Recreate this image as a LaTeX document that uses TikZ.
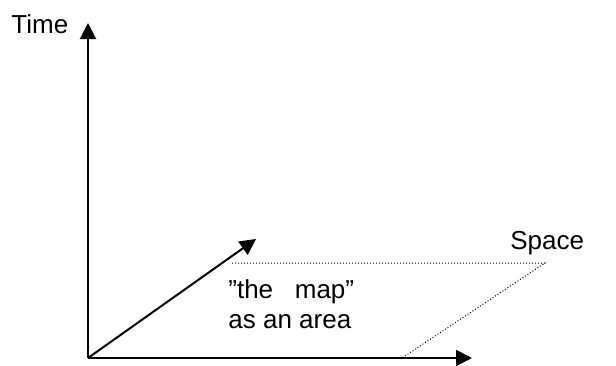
\documentclass[tikz,border=0pt]{standalone}
\usepackage{fontspec}
\setmainfont{Liberation Sans}
\usetikzlibrary{arrows.meta}

\tikzset{
  axis/.style={line width=1pt,-{Triangle[length=8pt,width=8pt]}},
  maparea/.style={line width=0.5pt,dash pattern=on 0.5pt off 1pt},
  lbl/.style={inner sep=0pt,font=\fontsize{13}{15}\selectfont}
}

\begin{document}
\begin{tikzpicture}[x=0.5pt,y=-0.5pt]
            \useasboundingbox (0,0) rectangle (616,365);
            \coordinate (origin) at (88,358);
            \coordinate (timeend) at (88,23);
            \coordinate (spaceend) at (472,358);
            \coordinate (depthend) at (256,239);
            \coordinate (farleft) at (232,263);
            \coordinate (farright) at (545,263);
            \coordinate (nearright) at (402,358);
            \draw[axis] (origin) -- (timeend);
            \draw[axis] (origin) -- (spaceend);
            \draw[axis] (origin) -- (depthend);
            \draw[maparea] (farleft) -- (farright) -- (nearright);
            \node[lbl,anchor=base west] (time) at (11,33) {Time};
            \node[lbl,anchor=base west] (space) at (510,249) {Space};
            \node[lbl,anchor=north west,align=left] (map) at (228,279) {”the\ \ \ map”\\as an area};
        \end{tikzpicture}
\end{document}
